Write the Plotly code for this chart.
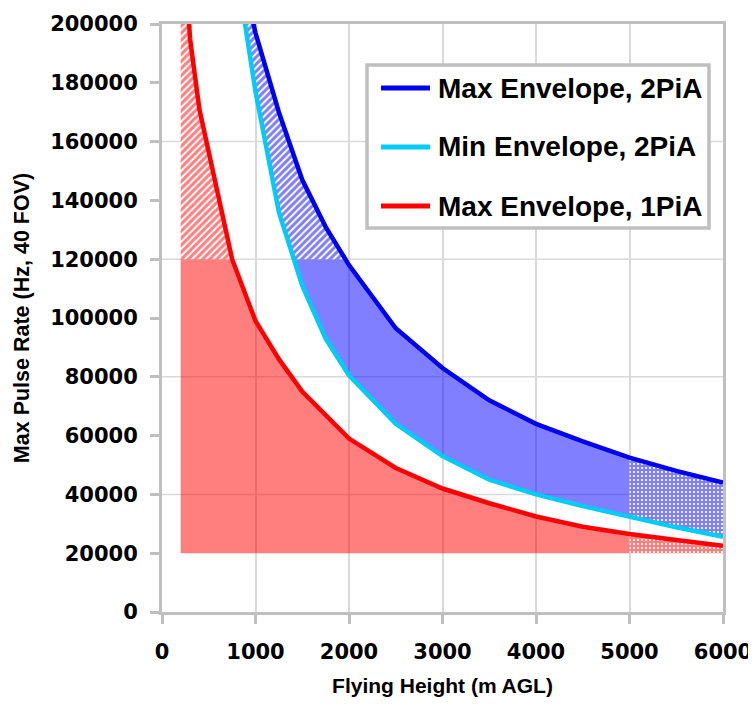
import numpy as np
import plotly.graph_objects as go

# ---- data ----
height_1pia = [200, 250, 300, 400, 500, 600, 750, 1000, 1250, 1500, 2000, 2500,
               3000, 3500, 4000, 4500, 5000, 5500, 6000]
max_env_1pia = [245000, 218000, 195000, 171000, 156000, 141000, 120000, 99000, 86000,
                75000, 59000, 49000, 42000, 37000, 32500, 29000, 26500, 24500, 22500]

height_2pia = [800, 1000, 1250, 1500, 1750, 2000, 2500, 3000, 3500, 4000, 4500,
               5000, 5500, 6000]
max_env_2pia = [225000, 197000, 170000, 147000, 131000, 118000, 96500, 83000, 72000,
                64000, 58000, 52500, 48000, 44000]
min_env_2pia = [218000, 177000, 136000, 111000, 93000, 80500, 64000, 53000, 45000,
                40000, 36000, 32300, 28800, 25600]

rate_cap = 120000      # upper limit of the solid zones
rate_floor = 20000     # lower limit of the 1PiA zone
height_limit = 5000    # right limit of the solid zones
height_start = 200     # left limit of the 1PiA zone

x_ticks = [0, 1000, 2000, 3000, 4000, 5000, 6000]
y_ticks = [0, 20000, 40000, 60000, 80000, 100000, 120000, 140000, 160000, 180000, 200000]
y_grid = [40000, 80000, 120000, 160000]

names = ["Max Envelope, 2PiA", "Min Envelope, 2PiA", "Max Envelope, 1PiA"]

# ---- helpers ----
def f(xs, ys):
    xs = np.asarray(xs, float); ys = np.asarray(ys, float)
    return lambda q: np.interp(q, xs, ys)

def cross(xs, ys, level):
    xs = np.asarray(xs, float); ys = np.asarray(ys, float)
    return float(np.interp(level, ys[::-1], xs[::-1]))

def band(xs_data, lo, hi, x0, x1, extra=()):
    pts = [v for v in xs_data if x0 < v < x1] + [x0, x1] + [e for e in extra if x0 < e < x1]
    xs = np.array(sorted(set(pts)), float)
    top = hi(xs); bot = lo(xs)
    return list(xs) + list(xs[::-1]), list(top) + list(bot[::-1])

red = f(height_1pia, max_env_1pia)
blue = f(height_2pia, max_env_2pia)
cyan = f(height_2pia, min_env_2pia)

xr = cross(height_1pia, max_env_1pia, rate_cap)
xb = cross(height_2pia, max_env_2pia, rate_cap)
xc = cross(height_2pia, min_env_2pia, rate_cap)

const = lambda v: (lambda q: np.full_like(np.asarray(q, float), v))

RED_FILL = "rgba(255,0,0,0.5)"
BLUE_FILL = "rgba(0,0,255,0.5)"
RED = "#FF0000"
BLUE = "#0000F0"
CYAN = "#00CCF5"
FRAME = "#BFBFBF"

fig = go.Figure()

def add_poly(px, py, fillcolor=None, pattern=None):
    kw = dict(x=px, y=py, mode="lines", line=dict(width=0), fill="toself",
              showlegend=False, hoverinfo="skip")
    if pattern:
        kw["fillcolor"] = "rgba(0,0,0,0)"
        kw["fillpattern"] = pattern
    else:
        kw["fillcolor"] = fillcolor
    fig.add_trace(go.Scatter(**kw))

HATCH = dict(shape="/", bgcolor="white", size=5, solidity=0.6)
GRID = dict(shape="+", bgcolor="white", size=4, solidity=0.8)

# 1PiA zones
px, py = band(height_1pia, const(rate_floor), lambda q: np.minimum(red(q), rate_cap),
              height_start, height_limit, [xr])
add_poly(px, py, RED_FILL)
px, py = band(height_1pia, const(rate_cap), red, height_start, xr)
add_poly(px, py, pattern=dict(HATCH, fgcolor=RED))
px, py = band(height_1pia, const(rate_floor), red, height_limit, 6000)
add_poly(px, py, pattern=dict(GRID, fgcolor=RED))

# 2PiA zones
px, py = band(height_2pia, cyan, lambda q: np.minimum(blue(q), rate_cap),
              xc, height_limit, [xb])
add_poly(px, py, BLUE_FILL)
px, py = band(height_2pia, lambda q: np.maximum(cyan(q), rate_cap), blue,
              height_2pia[0], xb, [xc])
add_poly(px, py, pattern=dict(HATCH, fgcolor=BLUE))
px, py = band(height_2pia, cyan, blue, height_limit, 6000)
add_poly(px, py, pattern=dict(GRID, fgcolor=BLUE))

# lines
series = [(height_2pia, max_env_2pia, BLUE),
          (height_2pia, min_env_2pia, CYAN),
          (height_1pia, max_env_1pia, RED)]
for i, (xs, ys, col) in enumerate(series):
    fig.add_trace(go.Scatter(x=xs, y=ys, mode="lines", name=names[i],
                             line=dict(color=col, width=4.5), showlegend=False))

for v in y_grid:
    fig.add_hline(y=v, line=dict(color="#D9D9D9", width=1.5), layer="below")

# ---- legend box (drawn in plot-area fractions) ----
PLOT_L, PLOT_T, PLOT_W, PLOT_H = 162, 24, 561, 588
fx = lambda p: (p - PLOT_L) / PLOT_W
fy = lambda p: 1 - (p - PLOT_T) / PLOT_H
fig.add_shape(type="rect", xref="paper", yref="paper",
              x0=fx(367), x1=fx(709), y0=fy(228), y1=fy(65),
              line=dict(color=FRAME, width=3.5), fillcolor="white", layer="above")
for i, (_, _, col) in enumerate(series):
    row = 88 + 59 * i
    fig.add_shape(type="line", xref="paper", yref="paper",
                  x0=fx(381), x1=fx(430), y0=fy(row), y1=fy(row),
                  line=dict(color=col, width=5), layer="above")
    fig.add_annotation(xref="paper", yref="paper", x=fx(436), y=fy(row),
                       xanchor="left", yanchor="middle", showarrow=False,
                       text=names[i],
                       font=dict(family="Liberation Sans, Arial", size=28,
                                 color="black", weight="bold"))

TICK_FONT = dict(family="DejaVu Sans", size=21, color="black", weight="bold")
axis_common = dict(showline=True, linecolor=FRAME, linewidth=3, mirror=True,
                   ticks="outside", ticklen=9, tickwidth=3, tickcolor=FRAME,
                   zeroline=False, tickfont=TICK_FONT, automargin=False,
                   ticklabeloverflow="allow")

fig.update_layout(
    width=748, height=708,
    margin=dict(l=154, r=33, t=16, b=104),
    plot_bgcolor="white", paper_bgcolor="white",
    font=dict(family="Liberation Sans, Arial", size=20, color="black"),
    showlegend=False,
    xaxis=dict(range=[0, 6000], tickvals=x_ticks, showgrid=True, gridcolor="#D9D9D9",
               gridwidth=1.5, ticklabelstandoff=10,
               title=dict(text="Flying Height (m AGL)", standoff=16,
                          font=dict(family="Liberation Sans, Arial", size=21, weight="bold")),
               **axis_common),
    yaxis=dict(range=[0, 200000], tickvals=y_ticks, tickformat="d", showgrid=False,
               ticklabelstandoff=8,
               title=dict(text="Max Pulse Rate (Hz, 40 FOV)", standoff=15,
                          font=dict(family="Liberation Sans, Arial", size=21.5, weight="bold")),
               **axis_common),
)

fig.write_html("out.html")
